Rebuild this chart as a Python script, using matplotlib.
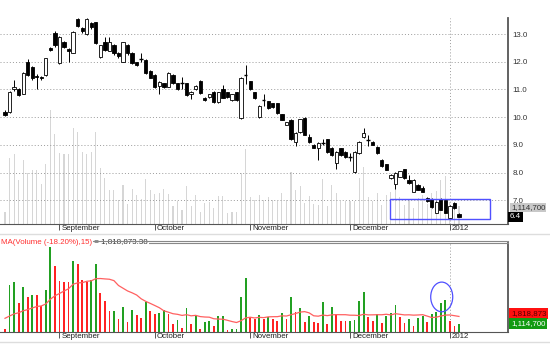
import numpy as np
import pandas as pd
import matplotlib
matplotlib.use('Agg')
import matplotlib.pyplot as plt
from matplotlib.patches import Rectangle, Ellipse
from matplotlib.lines import Line2D

plt.rcParams.update({'font.size': 5.7, 'font.family': ['Liberation Sans', 'DejaVu Sans']})

# OHLC of the daily candles (mid Aug 2011 - early Jan 2012)
opens = [10.18, 10.18, 11.00, 11.01, 10.85, 11.99, 11.81, 11.50, 11.45, 11.52,
         12.49, 13.04, 11.95, 12.71, 12.45, 12.31, 13.54, 13.22, 13.00, 13.40,
         13.43, 12.17, 12.70, 12.40, 12.60, 12.30, 12.00, 12.60, 12.30, 11.98,
         12.10, 12.05, 11.68, 11.52, 11.12, 11.23, 11.09, 11.52, 11.23, 11.22,
         11.23, 10.83, 11.00, 11.30, 10.69, 10.73, 10.90, 10.55, 11.00, 10.90,
         10.62, 10.90, 9.97, 11.50, 11.30, 10.90, 10.00, 10.60, 10.58, 10.50,
         10.50, 10.10, 9.72, 9.90, 9.10, 9.46, 9.97, 9.30, 9.00, 8.90,
         9.05, 9.20, 8.90, 8.34, 8.88, 8.74, 8.56, 8.02, 8.70, 9.30,
         9.17, 9.10, 8.92, 8.45, 8.30, 7.80, 7.60, 7.85, 8.12, 7.73,
         7.30, 7.55, 7.45, 7.08, 7.05, 6.55, 7.05, 7.00, 6.35, 6.90, 6.50]
highs = [10.25, 10.95, 11.35, 11.05, 11.62, 12.10, 11.85, 11.55, 11.50, 12.15,
         12.55, 13.10, 12.92, 12.75, 12.50, 13.10, 13.58, 13.25, 13.58, 13.45,
         13.45, 12.62, 12.90, 12.90, 12.65, 12.35, 12.72, 12.65, 12.35, 12.00,
         12.30, 12.10, 11.70, 11.55, 11.32, 11.25, 11.62, 11.55, 11.25, 11.45,
         11.25, 10.95, 11.15, 11.35, 10.72, 10.85, 10.95, 10.92, 11.15, 10.92,
         10.85, 10.92, 11.45, 11.88, 11.32, 10.92, 10.42, 10.85, 10.60, 10.52,
         10.52, 10.12, 9.84, 9.92, 9.45, 9.95, 9.99, 9.40, 9.02, 9.10,
         9.20, 9.22, 8.92, 8.76, 8.90, 8.76, 8.70, 8.76, 9.12, 9.60,
         9.35, 9.12, 8.95, 8.47, 8.32, 7.95, 8.02, 8.07, 8.14, 7.90,
         7.75, 7.60, 7.50, 7.10, 7.08, 6.97, 7.07, 7.02, 6.82, 6.95, 6.52]
lows = [10.05, 10.15, 10.95, 10.75, 10.82, 11.50, 11.35, 11.00, 11.35, 11.50,
        12.40, 12.55, 11.93, 12.50, 12.00, 12.30, 13.25, 13.05, 12.98, 13.20,
        12.65, 12.15, 12.40, 12.38, 12.25, 12.15, 11.98, 12.25, 11.92, 11.85,
        12.00, 11.55, 11.40, 11.05, 10.83, 11.05, 11.07, 11.20, 10.98, 11.00,
        10.78, 10.65, 10.98, 10.85, 10.60, 10.70, 10.52, 10.50, 10.68, 10.70,
        10.60, 10.60, 9.95, 11.20, 10.98, 10.66, 9.98, 10.40, 10.30, 10.33,
        10.12, 9.88, 9.70, 9.18, 8.95, 9.44, 9.35, 9.05, 8.88, 8.45,
        8.98, 8.72, 8.60, 8.13, 8.60, 8.54, 8.40, 8.00, 8.68, 9.25,
        8.95, 8.98, 8.68, 8.20, 8.08, 7.78, 7.40, 7.83, 7.78, 7.60,
        7.28, 7.35, 7.28, 6.95, 6.73, 6.53, 6.63, 6.53, 6.33, 6.68, 6.38]
closes = [10.08, 10.91, 11.09, 10.80, 11.59, 11.52, 11.41, 11.45, 11.40, 12.13,
          12.42, 12.60, 12.89, 12.53, 12.40, 13.07, 13.29, 13.10, 13.54, 13.25,
          12.68, 12.60, 12.42, 12.70, 12.30, 12.20, 12.70, 12.30, 11.95, 11.90,
          12.08, 11.60, 11.41, 11.09, 11.28, 11.09, 11.59, 11.23, 11.00, 11.24,
          10.80, 10.91, 11.12, 10.87, 10.62, 10.83, 10.55, 10.90, 10.70, 10.73,
          10.83, 10.62, 11.41, 11.52, 11.00, 10.69, 10.40, 10.62, 10.33, 10.36,
          10.15, 9.90, 9.82, 9.20, 9.43, 9.93, 9.37, 9.10, 8.90, 9.05,
          9.07, 8.74, 8.63, 8.74, 8.63, 8.56, 8.55, 8.74, 9.10, 9.43,
          9.15, 9.00, 8.70, 8.23, 8.10, 7.90, 8.00, 8.05, 7.80, 7.62,
          7.73, 7.37, 7.30, 6.97, 6.75, 6.95, 6.65, 6.55, 6.80, 6.70, 6.40]

# volume in millions, and bar colour (g = green, r = red) as shown in the lower panel
volumes = [0.76, 4.14, 4.37, 2.74, 3.98, 3.21, 3.36, 3.36, 2.51, 3.75,
           7.16, 5.61, 4.45, 4.37, 4.37, 5.99, 5.76, 4.52, 4.37, 4.52,
           5.76, 3.52, 2.90, 2.13, 2.13, 1.51, 2.44, 1.27, 2.20, 1.82,
           1.58, 2.82, 2.13, 1.89, 1.97, 2.20, 1.89, 1.12, 1.43, 0.86,
           2.36, 1.12, 1.82, 0.76, 1.33, 1.37, 0.99, 1.76, 1.76, 0.68,
           0.76, 0.76, 3.21, 4.68, 1.66, 1.51, 1.82, 1.51, 1.66, 1.51,
           1.41, 1.97, 1.51, 3.26, 2.10, 2.41, 1.33, 1.76, 1.27, 1.20,
           2.82, 1.14, 2.44, 1.92, 1.41, 1.41, 1.41, 1.45, 2.90, 3.60,
           1.66, 1.41, 1.92, 1.20, 1.79, 1.99, 2.64, 1.72, 1.20, 1.53,
           1.02, 1.61, 1.79, 1.27, 1.92, 2.05, 2.77, 3.00, 1.35, 0.96, 1.1147]
vol_dirs = ('rggrgrgrrg' 'grrrrgrrrg' 'grrrgrgrgr' 'rgrrggrrg'
            'rgrgrggrgg' 'rggggrrgrg' 'rrgrgrgrgr' 'rgrgrrrggg'
            'grrgrgggrr' 'grggrggggr' 'rg')
# volumes of the 14 sessions before the window (only feed the 15-day average)
vol_prior = [1.5, 1.9, 1.4, 1.7, 1.8, 1.5, 1.6, 1.9, 1.4, 1.7, 1.6, 1.8, 1.5, 1.7]

month_pos = [12, 33, 54, 76, 98]
month_labels = ['September', 'October', 'November', 'December', '2012']
price_ticks = [7.0, 8.0, 9.0, 10.0, 11.0, 12.0, 13.0]

W, H = 550, 364
def fx(x):
    return x / W
def fy(y):
    return 1 - y / H

x = np.arange(len(closes))
ma = pd.Series(vol_prior + volumes).rolling(15).mean().iloc[len(vol_prior):].values

GRID = dict(color='#9a9a9a', linestyle=(0, (1, 2.2)), linewidth=0.7)
SPINE = '#555555'
BLUE = '#5050ff'

fig = plt.figure(figsize=(W / 100, H / 100), dpi=100)
ax = fig.add_axes([0, fy(224), fx(508), (224 - 18) / H])
axv = ax.twinx()
axb = fig.add_axes([0, fy(332.3), fx(508), (332.3 - 243) / H])

# upper panel: grey volume behind the candles
axv.bar(x, volumes, width=0.24, color='#d6d6d6', zorder=1)
axv.set_ylim(0, 12.9)
axv.set_yticks([])
for s in axv.spines.values():
    s.set_visible(False)
ax.set_zorder(axv.get_zorder() + 1)
ax.patch.set_visible(False)

for i in x:
    o, h, l, c = opens[i], highs[i], lows[i], closes[i]
    ax.vlines(i, l, h, color='black', linewidth=0.7, zorder=3)
    lo, hi = min(o, c), max(o, c)
    if hi - lo < 0.04:
        ax.hlines((o + c) / 2, i - 0.38, i + 0.38, color='black', linewidth=1.0, zorder=4)
    else:
        fc = 'black' if c < o else 'white'
        ax.add_patch(Rectangle((i - 0.36, lo), 0.72, hi - lo, facecolor=fc,
                               edgecolor='black', linewidth=0.6, zorder=4))

ax.set_xlim(-1.1, 110.8)
ax.set_ylim(6.14, 13.58)
ax.yaxis.tick_right()
ax.set_yticks(price_ticks)
ax.set_yticklabels([f'{p:.1f}' for p in price_ticks])
ax.tick_params(axis='y', length=0, pad=3.5, labelcolor='#333333')
for p in price_ticks:
    ax.axhline(p, zorder=2, **GRID)
ax.axvline(month_pos[-1], zorder=2, **GRID)
ax.add_patch(Rectangle((84.8, 6.32), 22.0, 0.71, fill=False, edgecolor=BLUE,
                       linewidth=1.0, zorder=5))

# lower panel: coloured volume + 15-day average
bar_cols = ['#22a022' if d == 'g' else '#ff2222' for d in vol_dirs]
axb.bar(x, volumes, width=0.4, color=bar_cols, zorder=2)
axb.plot(x, ma, color='#ff6060', linewidth=0.9, zorder=3)
axb.set_xlim(-1.1, 110.8)
axb.set_ylim(0.5, 7.42)
axb.set_yticks([])
axb.axvline(month_pos[-1], zorder=1, **GRID)
axb.add_patch(Ellipse((96.2, 3.24), 4.85, 2.3, fill=False, edgecolor=BLUE,
                      linewidth=0.9, zorder=5))

for a in (ax, axb):
    a.spines['left'].set_visible(False)
    a.spines['top'].set_visible(a is axb)
    a.spines['bottom'].set_color(SPINE)
    a.spines['right'].set_color(SPINE)
    a.spines['right'].set_linewidth(1.3)
    a.set_xticks(month_pos)
    a.set_xticklabels([])
    a.tick_params(axis='x', length=4, width=0.7, color=SPINE)
    for p, lab in zip(month_pos, month_labels):
        a.annotate(lab, xy=(p, 0), xycoords=('data', 'axes fraction'),
                   xytext=(1.6, -0.6), textcoords='offset points',
                   ha='left', va='top', color='#222222')
axb.spines['top'].set_color('#888888')

# separators and the double line over the lower panel
for yy in (234, 342):
    fig.add_artist(Line2D([0, 1], [fy(yy), fy(yy)], color='#dddddd', linewidth=1.0))
fig.add_artist(Line2D([0, fx(508)], [fy(240.6), fy(240.6)], color='#888888', linewidth=0.8))

# indicator title
t1 = fig.text(fx(1), fy(242), 'MA(Volume (-18.20%),15)', color='#ff3030',
              ha='left', va='center', zorder=10,
              bbox=dict(facecolor='white', edgecolor='none', pad=0.8))
ax.annotate(' = 1,818,873.38', xy=(1, 0.5), xycoords=t1, ha='left', va='center',
            color='#333333', annotation_clip=False, zorder=10,
            bbox=dict(facecolor='white', edgecolor='none', pad=0.8))

# value boxes on the right
fig.text(fx(511), fy(207.5), f'{volumes[-1] * 1e6:,.0f}', color='#333333', ha='left',
         va='center', bbox=dict(facecolor='#c8c8c8', edgecolor='none', pad=0.5))
fig.text(fx(510), fy(216.8), f'{closes[-1]:.1f}', color='white', ha='left', va='center',
         bbox=dict(facecolor='black', edgecolor='none', pad=1.1))
fig.text(fx(511), fy(313.5), '1,818,873', color='#5a0000', ha='left', va='center',
         bbox=dict(facecolor='#ff1010', edgecolor='none', pad=1.2))
fig.text(fx(511), fy(323.5), f'{volumes[-1] * 1e6:,.0f}', color='white', ha='left',
         va='center', bbox=dict(facecolor='#129a12', edgecolor='none', pad=1.2))

fig.savefig('out.png', dpi=100)
